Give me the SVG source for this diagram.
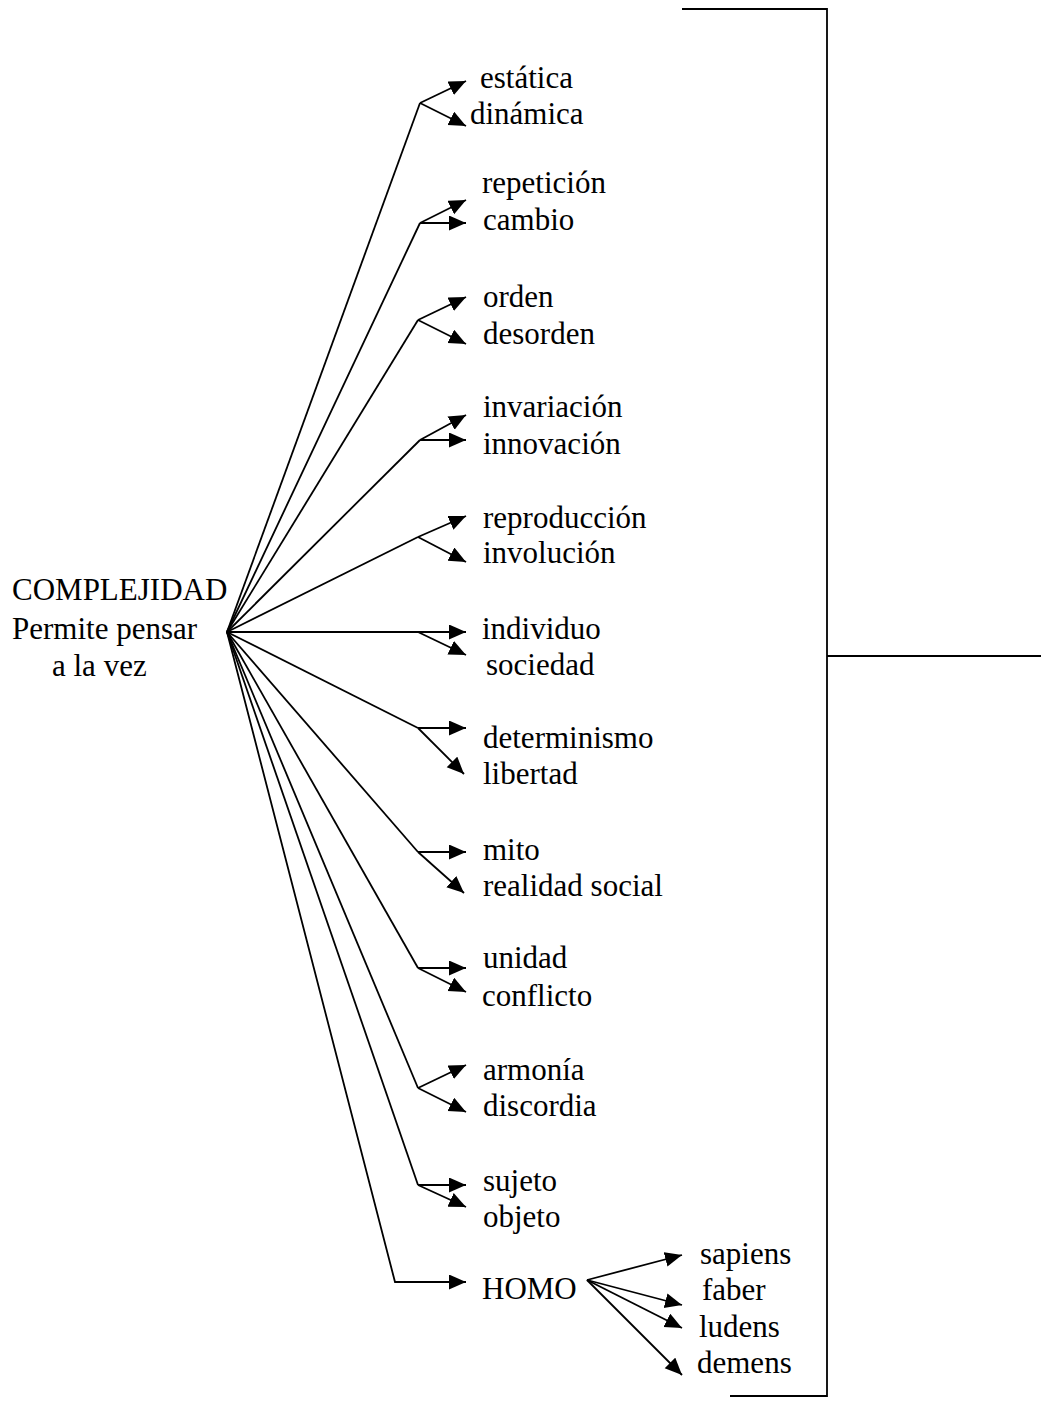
<svg xmlns="http://www.w3.org/2000/svg" width="1041" height="1405" viewBox="0 0 1041 1405">
<style>
text{font-family:"Liberation Serif","Times New Roman",serif;font-size:31px;fill:#000}
.c line,.c polyline{stroke:#000;stroke-width:1.8;fill:none}
.a{marker-end:url(#ah)}
</style>
<defs>
<marker id="ah" markerUnits="userSpaceOnUse" markerWidth="18" markerHeight="16" refX="17" refY="7.5" orient="auto">
<path d="M0,0 L17,7.5 L0,15 z" fill="#000"/>
</marker>
</defs>
<rect width="1041" height="1405" fill="#fff"/>
<g id="connectors" class="c">
<line x1="227" y1="632" x2="420" y2="103"/>
<line x1="420" y1="103" x2="466" y2="81" class="a"/>
<line x1="420" y1="103" x2="466" y2="126" class="a"/>
<line x1="227" y1="632" x2="420" y2="223"/>
<line x1="420" y1="223" x2="466" y2="200" class="a"/>
<line x1="420" y1="223" x2="466" y2="223" class="a"/>
<line x1="227" y1="632" x2="418" y2="320"/>
<line x1="418" y1="320" x2="466" y2="297" class="a"/>
<line x1="418" y1="320" x2="466" y2="344" class="a"/>
<line x1="227" y1="632" x2="420" y2="440"/>
<line x1="420" y1="440" x2="466" y2="415" class="a"/>
<line x1="420" y1="440" x2="466" y2="440" class="a"/>
<line x1="227" y1="632" x2="418" y2="537"/>
<line x1="418" y1="537" x2="466" y2="516" class="a"/>
<line x1="418" y1="537" x2="466" y2="562" class="a"/>
<line x1="227" y1="632" x2="418" y2="632"/>
<line x1="418" y1="632" x2="466" y2="632" class="a"/>
<line x1="418" y1="632" x2="466" y2="655" class="a"/>
<line x1="227" y1="632" x2="418" y2="728"/>
<line x1="418" y1="728" x2="466" y2="728" class="a"/>
<line x1="418" y1="728" x2="464" y2="774" class="a"/>
<line x1="227" y1="632" x2="418" y2="852"/>
<line x1="418" y1="852" x2="466" y2="852" class="a"/>
<line x1="418" y1="852" x2="464" y2="893" class="a"/>
<line x1="227" y1="632" x2="418" y2="968"/>
<line x1="418" y1="968" x2="466" y2="968" class="a"/>
<line x1="418" y1="968" x2="466" y2="992" class="a"/>
<line x1="227" y1="632" x2="418" y2="1088"/>
<line x1="418" y1="1088" x2="466" y2="1065" class="a"/>
<line x1="418" y1="1088" x2="466" y2="1112" class="a"/>
<line x1="227" y1="632" x2="418" y2="1185"/>
<line x1="418" y1="1185" x2="466" y2="1185" class="a"/>
<line x1="418" y1="1185" x2="466" y2="1207" class="a"/>
<polyline points="227,632 395,1282 466,1282" class="a"/>
<line x1="587" y1="1280" x2="682" y2="1255" class="a"/>
<line x1="587" y1="1280" x2="682" y2="1305" class="a"/>
<line x1="587" y1="1280" x2="682" y2="1328" class="a"/>
<line x1="587" y1="1280" x2="682" y2="1375" class="a"/>
<polyline points="682,9 827,9 827,1396 730,1396"/>
<line x1="827" y1="656" x2="1041" y2="656"/>
</g>
<g id="complejidad"><text x="12" y="600">COMPLEJIDAD</text><text x="12" y="639">Permite pensar</text><text x="52" y="676">a la vez</text></g>
<g id="n1"><text x="480" y="88">estática</text><text x="470" y="124">dinámica</text></g>
<g id="n2"><text x="482" y="193">repetición</text><text x="483" y="230">cambio</text></g>
<g id="n3"><text x="483" y="307">orden</text><text x="483" y="344">desorden</text></g>
<g id="n4"><text x="483" y="417">invariación</text><text x="483" y="454">innovación</text></g>
<g id="n5"><text x="483" y="528">reproducción</text><text x="483" y="563">involución</text></g>
<g id="n6"><text x="482" y="639">individuo</text><text x="486" y="675">sociedad</text></g>
<g id="n7"><text x="483" y="748">determinismo</text><text x="483" y="784">libertad</text></g>
<g id="n8"><text x="483" y="860">mito</text><text x="483" y="896">realidad social</text></g>
<g id="n9"><text x="483" y="968">unidad</text><text x="482" y="1006">conflicto</text></g>
<g id="n10"><text x="483" y="1080">armonía</text><text x="483" y="1116">discordia</text></g>
<g id="n11"><text x="483" y="1191">sujeto</text><text x="483" y="1227">objeto</text></g>
<g id="homo"><text x="482" y="1299">HOMO</text></g>
<g id="homo-types"><text x="700" y="1264">sapiens</text><text x="702" y="1300">faber</text><text x="699" y="1337">ludens</text><text x="697" y="1373">demens</text></g>
</svg>
